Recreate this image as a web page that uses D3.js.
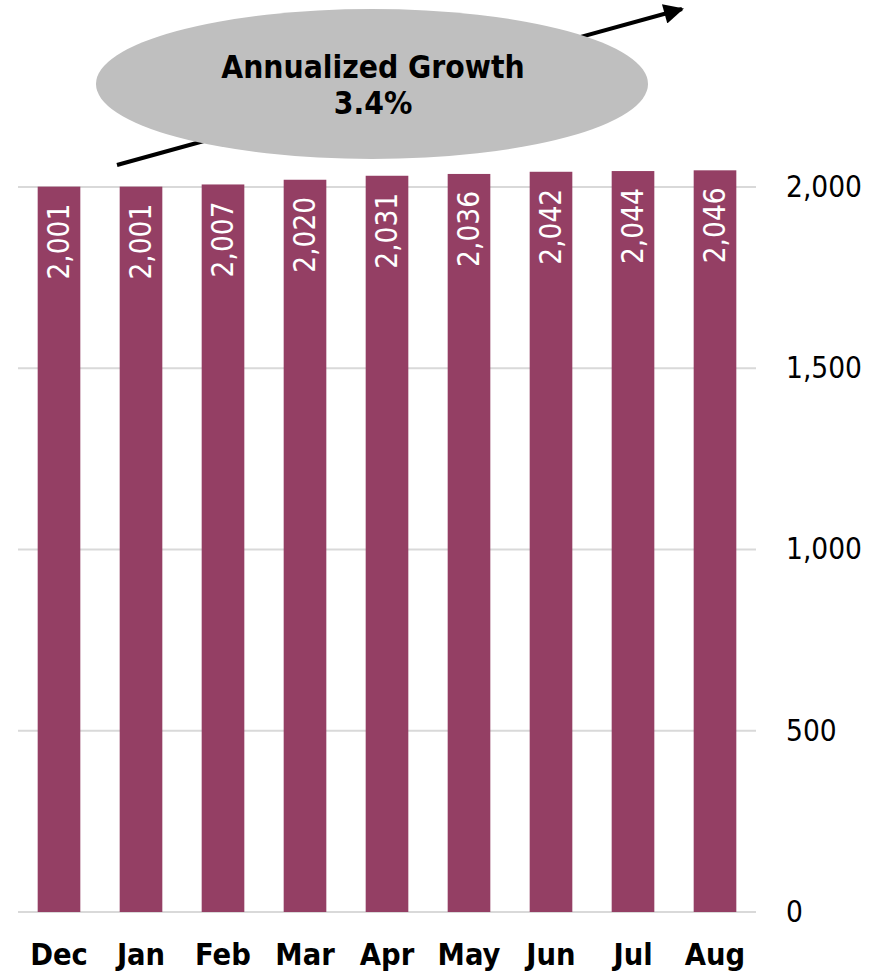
<!DOCTYPE html>
<html><head><meta charset="utf-8">
<script src="https://cdn.jsdelivr.net/npm/d3@7"></script>
<style>body{margin:0;background:#fff}svg{display:block}</style>
</head><body>
<svg id="c" width="883" height="973"></svg>
<script>
const months = ["Dec","Jan","Feb","Mar","Apr","May","Jun","Jul","Aug"];
const values = [2001,2001,2007,2020,2031,2036,2042,2044,2046];
const yTicks = [0,500,1000,1500,2000];
const calloutTitle = "Annualized Growth";
const calloutValue = "3.4%";

const font = "'DejaVu Sans Condensed','DejaVu Sans',sans-serif";
const svg = d3.select("#c");
const x = d3.scaleBand().domain(months).range([18,756]).paddingInner(0.48).paddingOuter(0.24);
const y = d3.scaleLinear().domain([0,2000]).range([912,187]);

// gridlines
svg.append("g").selectAll("line").data(yTicks).join("line")
  .attr("x1",18).attr("x2",756).attr("y1",d=>y(d)).attr("y2",d=>y(d))
  .attr("stroke","#d9d9d9").attr("stroke-width",2);

// right axis
const ax = svg.append("g").attr("transform","translate(786,0)")
  .call(d3.axisRight(y).tickValues(yTicks).tickSize(0).tickPadding(0).tickFormat(d3.format(",")));
ax.select(".domain").remove();
ax.selectAll("text").attr("font-family",font).attr("font-size",29.5).attr("fill","#000");

// bars
svg.append("g").selectAll("rect").data(values).join("rect")
  .attr("x",(d,i)=>x(months[i])).attr("width",x.bandwidth())
  .attr("y",d=>y(d)).attr("height",d=>y(0)-y(d)).attr("fill","#943f64");

// bar labels
svg.append("g").selectAll("text").data(values).join("text")
  .attr("transform",(d,i)=>`translate(${x(months[i])+x.bandwidth()/2+10},${y(d)+17}) rotate(-90)`)
  .attr("text-anchor","end").attr("font-family",font).attr("font-size",29.5).attr("fill","#fff")
  .text(d=>d3.format(",")(d));

// x axis labels
const xa = svg.append("g").attr("transform","translate(0,965)")
  .call(d3.axisBottom(x).tickSize(0).tickPadding(0));
xa.select(".domain").remove();
xa.selectAll("text").attr("font-family",font).attr("font-size",30.5).attr("font-weight","bold").attr("fill","#000").attr("dy","0");

// arrow
const defs = svg.append("defs");
defs.append("marker").attr("id","ah").attr("viewBox","0 0 10 10").attr("refX",9).attr("refY",5)
  .attr("markerWidth",5.5).attr("markerHeight",5).attr("markerUnits","strokeWidth").attr("orient","auto")
  .append("path").attr("d","M0,0 L10,5 L0,10 z").attr("fill","#000");
svg.append("line").attr("x1",117).attr("y1",165).attr("x2",682).attr("y2",9)
  .attr("stroke","#000").attr("stroke-width",4).attr("marker-end","url(#ah)");

// callout
svg.append("ellipse").attr("cx",372).attr("cy",84).attr("rx",276).attr("ry",75).attr("fill","#bfbfbf");
svg.append("text").attr("x",373).attr("y",78).attr("text-anchor","middle").attr("font-family",font)
  .attr("font-size",31.5).attr("font-weight","bold").text(calloutTitle);
svg.append("text").attr("x",373).attr("y",114).attr("text-anchor","middle").attr("font-family",font)
  .attr("font-size",31.5).attr("font-weight","bold").text(calloutValue);
</script>
</body></html>
